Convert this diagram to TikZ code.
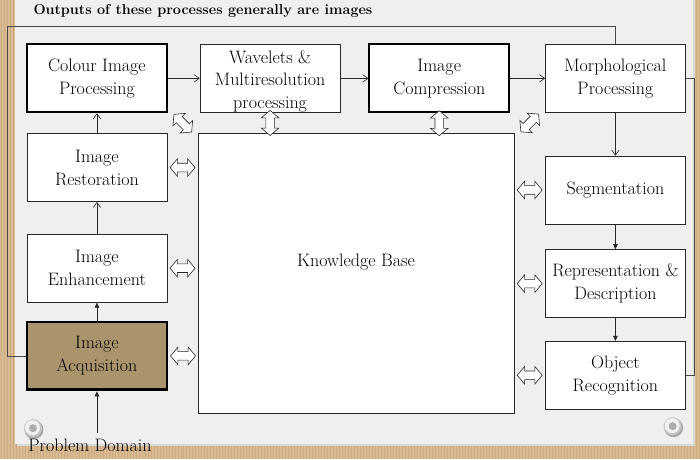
\documentclass[tikz,border=0pt]{standalone}
\usetikzlibrary{positioning,arrows.meta,shapes.arrows,calc}
\definecolor{IPCork}{RGB}{218,186,146}
\definecolor{IPCorkDark}{RGB}{204,170,128}
\definecolor{IPPaper}{RGB}{239,239,239}
\definecolor{IPTan}{RGB}{170,148,108}
\definecolor{IPInk}{RGB}{40,40,40}
\tikzset{
  ip box/.style={
    draw=IPInk,
    line width=0.7pt,
    fill=white,
    align=center,
    font=\fontsize{18}{23}\selectfont,
    inner sep=2pt,
    minimum width=140pt,
    minimum height=68pt
  },
  ip bold/.style={ip box, draw=black, line width=1.8pt},
  ip acq/.style={ip box, draw=black, line width=2.8pt, fill=IPTan, text=black},
  ip arrow/.style={-{Straight Barb[length=1.8mm,width=2.6mm]}, line width=0.6pt, IPInk},
  ip head/.style={-{Triangle[length=1.8mm,width=1.6mm]}, line width=0.6pt, IPInk},
  ip loop/.style={line width=0.6pt, IPInk!85},
  ip link/.style={double arrow, draw=IPInk, fill=white, line width=0.6pt,
    minimum height=25pt, inner xsep=0pt, inner ysep=4pt,
    double arrow head extend=4.5pt, double arrow tip angle=100},
  ip label/.style={font=\fontsize{18}{23}\selectfont, text=black}
}
\begin{document}
\begin{tikzpicture}[x=1pt,y=-1pt]
% board and sheet
\fill[IPCork] (0,0) rectangle (700,459);
\foreach \s in {1,4,...,700} \draw[IPCorkDark, line width=0.8pt] (\s,0) -- (\s,459);
\fill[black!15] (17,0) rectangle (695,446);
\fill[IPPaper] (15,0) rectangle (693,444);
\foreach \gx/\gy in {33/428, 673/426} {
  \fill[black!35] (\gx+1,\gy+1.5) circle (9.5pt);
  \fill[gray!45] (\gx,\gy) circle (9pt);
  \fill[gray!12] (\gx-0.5,\gy-0.5) circle (7.5pt);
  \fill[gray!65] (\gx,\gy) circle (4pt);
}
\useasboundingbox (0,0) rectangle (700,459);

\node[anchor=west, font=\fontsize{14.4}{17}\selectfont\bfseries] (title) at (30,11) {Outputs of these processes generally are images};

\node[ip bold] (colour) at (97,78) {Colour Image\\Processing};
\node[ip box, right=32pt of colour, inner ysep=0pt, font=\fontsize{18}{22.5}\selectfont,
  text height=60pt, text depth=0pt] (wave) {Wavelets \&\\Multiresolution\\processing};
\node[ip bold, right=28pt of wave] (comp) {Image\\Compression};
\node[ip box, right=35pt of comp] (morph) {Morphological\\Processing};
\node[ip box, below=20pt of colour] (rest) {Image\\Restoration};
\node[ip box, below=32pt of rest] (enh) {Image\\Enhancement};
\node[ip acq, below=18pt of enh] (acq) {Image\\Acquisition};
\node[ip box, below=43pt of morph] (seg) {Segmentation};
\node[ip box, below=25pt of seg] (rep) {Representation \&\\Description};
\node[ip box, below=23pt of rep] (obj) {Object\\Recognition};
\node[ip box, minimum width=316pt, minimum height=280pt, text depth=26pt, below right=20pt and 30pt of colour] (kb) {Knowledge Base};
\node[ip label, below=42pt of acq, xshift=-7pt, inner ysep=6pt] (prob) {Problem Domain};

% processing chain
\draw[ip arrow] (colour) -- (wave);
\draw[ip arrow] (wave) -- (comp);
\draw[ip arrow] (comp) -- (morph);
\draw[ip arrow] (morph) -- (seg);
\draw[ip head] (seg) -- (rep);
\draw[ip head] (rep) -- (obj);
\draw[ip head] (acq) -- (enh);
\draw[ip arrow] (enh) -- (rest);
\draw[ip arrow] (rest) -- (colour);
\draw[ip head] (acq.south |- prob.north) -- (acq);

% outputs are images
\coordinate (loopL) at (7,26);
\coordinate (loopR) at (695,200);
\draw[ip loop] (acq.west) -| (loopL) -| (morph.north);
\draw[ip loop] (morph.east) -| (loopR) |- (obj.east);

% links to the knowledge base
\foreach \n in {rest,enh,acq}
  \node[ip link] (kl-\n) at ($(\n.east)!0.5!(\n.east -| kb.west)$) {};
\foreach \n in {seg,rep,obj}
  \node[ip link] (kr-\n) at ($(\n.west)!0.5!(\n.west -| kb.east)$) {};
\foreach \n in {wave,comp}
  \node[ip link, rotate=90] (kt-\n) at ($(\n.south)!0.5!(\n.south |- kb.north)$) {};
\node[ip link, rotate=-45] (kd-colour) at ($(colour.south east)!0.5!(kb.north west)$) {};
\node[ip link, rotate=45] (kd-morph) at ($(morph.south west)!0.5!(kb.north east)$) {};
\end{tikzpicture}
\end{document}
